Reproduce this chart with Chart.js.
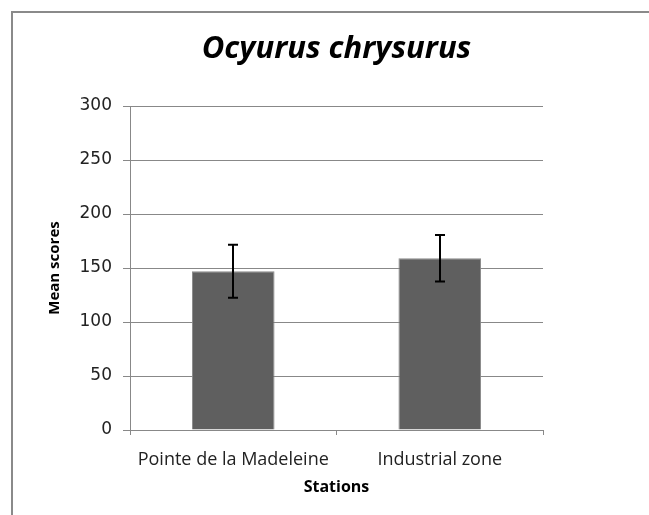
<!DOCTYPE html>
<html>
<head>
<meta charset="utf-8">
<script src="https://cdn.jsdelivr.net/npm/chart.js@4.4.1/dist/chart.umd.min.js"></script>
<style>
    body { margin: 0; background: #fff; }
    #frame {
        position: absolute; left: 11px; top: 11px; width: 700px; height: 600px;
        border-left: 2px solid #8a8a8a; border-top: 2px solid #8a8a8a;
    }
    #wrap { position: absolute; left: 0; top: 0; width: 649px; height: 515px; }
</style>
</head>
<body>
<div id="frame"></div>
<div id="wrap"><canvas id="chart" width="649" height="515"></canvas></div>
<script>
// data
const stations = ['Pointe de la Madeleine', 'Industrial zone'];
const meanScores = [147, 159];
const errors = [24.5, 21.5];
const yTicks = [0, 50, 100, 150, 200, 250, 300];

const chartTitle = 'Ocyurus chrysurus';

// title centred over the plot area
const titlePlugin = {
    id: 'titlePlugin',
    afterDraw(chart) {
        const ctx = chart.ctx;
        const area = chart.chartArea;
        ctx.save();
        ctx.font = 'italic bold 31px "Open Sans"';
        ctx.fillStyle = '#000';
        ctx.textAlign = 'center';
        ctx.textBaseline = 'alphabetic';
        ctx.fillText(chartTitle, (area.left + area.right) / 2, 58);
        ctx.restore();
    }
};

// error bars drawn through the y scale
const errorBars = {
    id: 'errorBars',
    afterDatasetsDraw(chart) {
        const ctx = chart.ctx;
        const y = chart.scales.y;
        const meta = chart.getDatasetMeta(0);
        ctx.save();
        ctx.strokeStyle = '#000';
        ctx.lineWidth = 2;
        meta.data.forEach((bar, i) => {
            const top = y.getPixelForValue(meanScores[i] + errors[i]);
            const bottom = y.getPixelForValue(meanScores[i] - errors[i]);
            const x = Math.round(bar.x);
            ctx.beginPath();
            ctx.moveTo(x, top);
            ctx.lineTo(x, bottom);
            ctx.moveTo(x - 5, top);
            ctx.lineTo(x + 5, top);
            ctx.moveTo(x - 5, bottom);
            ctx.lineTo(x + 5, bottom);
            ctx.stroke();
        });
        ctx.restore();
    }
};

const ctx = document.getElementById('chart').getContext('2d');
new Chart(ctx, {
    type: 'bar',
    data: {
        labels: stations,
        datasets: [{
            label: 'Mean scores',
            data: meanScores,
            backgroundColor: '#5f5f5f',
            borderColor: '#8a8a8a',
            borderWidth: 1,
            barPercentage: 0.4,
            categoryPercentage: 1
        }]
    },
    options: {
        responsive: false,
        animation: false,
        layout: { padding: { top: 106, right: 106, left: 0, bottom: 0 } },
        plugins: {
            legend: { display: false },
            tooltip: { enabled: false },
            title: { display: false }
        },
        scales: {
            x: {
                grid: { drawOnChartArea: false, color: '#888', tickLength: 5 },
                border: { color: '#888' },
                ticks: {
                    color: '#222',
                    padding: 14,
                    font: { family: '"Open Sans"', size: 18 }
                },
                title: {
                    display: true,
                    text: 'Stations',
                    color: '#000',
                    font: { family: '"Open Sans"', size: 16, weight: 'bold' },
                    padding: { top: 0, bottom: 18 }
                },
                afterFit(scale) { scale.height = 85; }
            },
            y: {
                min: 0,
                max: 300,
                afterBuildTicks(scale) {
                    scale.ticks = yTicks.map(v => ({ value: v }));
                },
                grid: { color: '#888', tickLength: 7 },
                border: { color: '#888' },
                ticks: {
                    color: '#222',
                    padding: 11,
                    font: { family: '"DejaVu Sans"', size: 17 }
                },
                title: {
                    display: true,
                    text: 'Mean scores',
                    color: '#000',
                    font: { family: '"Open Sans"', size: 15, weight: 'bold' },
                    padding: { top: 46, bottom: 0 }
                },
                afterFit(scale) { scale.width = 130; }
            }
        }
    },
    plugins: [titlePlugin, errorBars]
});
</script>
</body>
</html>
